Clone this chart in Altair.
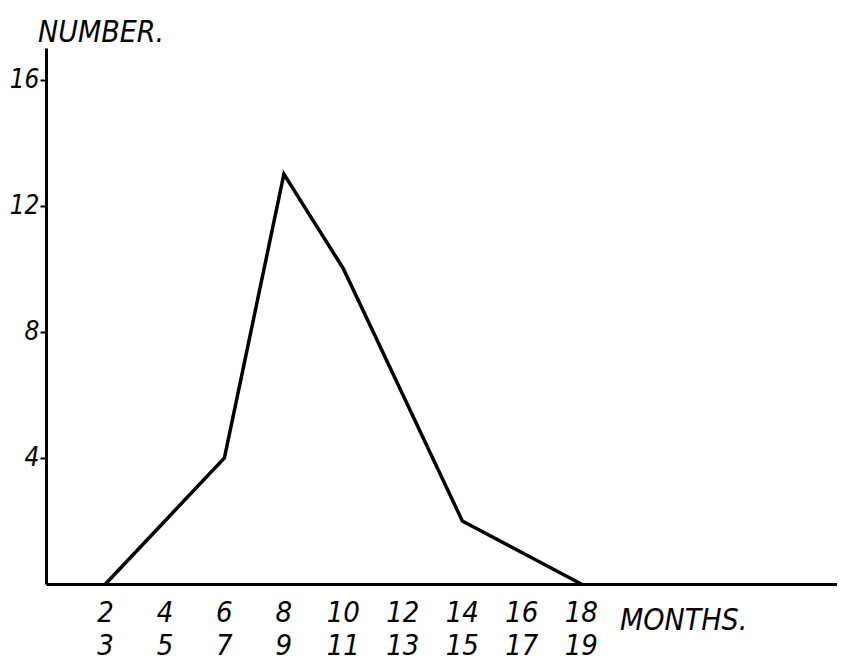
import altair as alt
import pandas as pd

months = [2, 4, 6, 8, 10, 12, 14, 16, 18]
numbers = [0, 2, 4, 13, 10, 6, 2, 1, 0]
label_top = ["2", "4", "6", "8", "10", "12", "14", "16", "18"]
label_bottom = ["3", "5", "7", "9", "11", "13", "15", "17", "19"]
y_ticks = [4, 8, 12, 16]
y_title = "NUMBER."
x_title = "MONTHS."

FONT = "DejaVu Sans Condensed, DejaVu Sans, sans-serif"
W, H = 791, 536

df = pd.DataFrame({"month": months, "number": numbers})
lab = pd.DataFrame({"month": months, "top": label_top, "bottom": label_bottom})

xs = alt.Scale(domain=[0, 26.6], nice=False, zero=False)
ys = alt.Scale(domain=[0, 17], nice=False)

line = alt.Chart(df).mark_line(color="black", strokeWidth=3.5, strokeJoin="miter").encode(
    x=alt.X("month:Q", scale=xs,
            axis=alt.Axis(title=None, labels=False, ticks=False, grid=False,
                          domainWidth=3, domainColor="black")),
    y=alt.Y("number:Q", scale=ys,
            axis=alt.Axis(values=y_ticks, title=None, grid=False, domainWidth=3,
                          domainColor="black", tickColor="black", tickWidth=2,
                          tickSize=6, labelFont=FONT, labelFontStyle="italic",
                          labelFontSize=26, labelColor="black", labelPadding=1,
                          labelBaseline="middle")),
)

txt = dict(font=FONT, fontStyle="italic", fontSize=29, color="black")

top_labels = alt.Chart(lab).mark_text(baseline="alphabetic", align="center", **txt).encode(
    x=alt.X("month:Q", scale=xs), y=alt.value(574), text="top:N")
bottom_labels = alt.Chart(lab).mark_text(baseline="alphabetic", align="center", **txt).encode(
    x=alt.X("month:Q", scale=xs), y=alt.value(607), text="bottom:N")

ttl = dict(font=FONT, fontStyle="italic", fontSize=30, color="black")
ytitle = alt.Chart(pd.DataFrame({"t": [y_title]})).mark_text(
    baseline="alphabetic", align="left", **ttl).encode(
    x=alt.value(-8), y=alt.value(-6), text="t:N")
xtitle = alt.Chart(pd.DataFrame({"t": [x_title]})).mark_text(
    baseline="alphabetic", align="left", **ttl).encode(
    x=alt.value(574), y=alt.value(582), text="t:N")

chart = alt.layer(line, top_labels, bottom_labels, ytitle, xtitle).properties(
    width=W, height=H,
    autosize=alt.AutoSizeParams(type="none"),
    padding={"left": 38, "top": 40, "right": 0, "bottom": 78},
).configure_view(stroke=None)

chart.save("out.html", embed_options={"renderer": "svg", "actions": False})
